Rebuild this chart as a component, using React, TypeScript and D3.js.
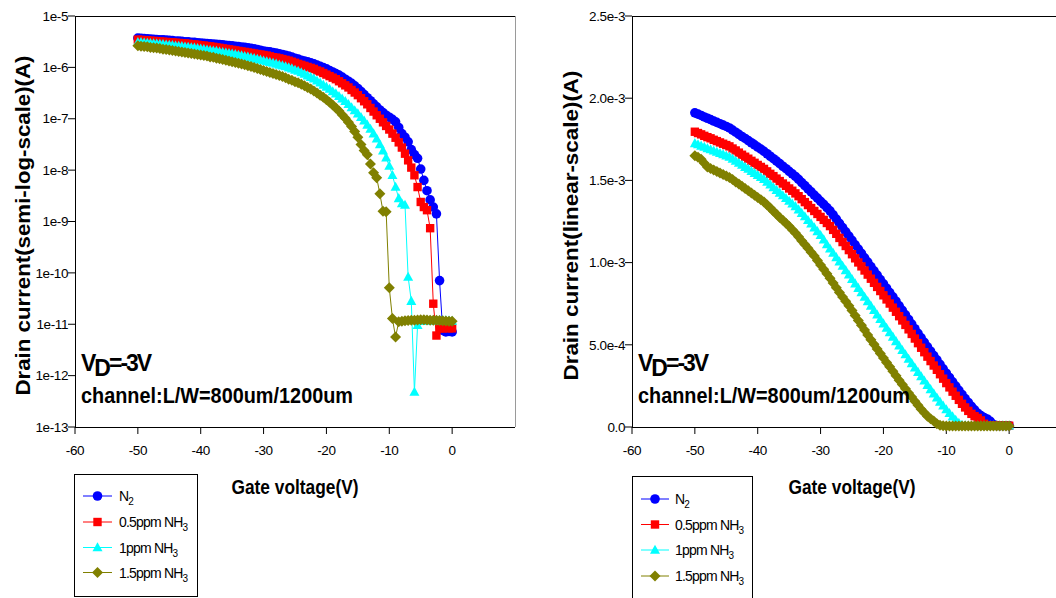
import React from "react";
import * as d3 from "d3";

// Gate sweep: -50 V to 0 V in 0.5 V steps (101 points)
const gateVoltage: number[] = d3.range(0, 101).map((i) => -50 + 0.5 * i);

// Drain current, semi-log panel (A)
const logN2 = [
  3.72e-6, 3.67e-6, 3.63e-6, 3.59e-6, 3.55e-6, 3.51e-6, 3.47e-6, 3.46e-6, 3.43e-6, 3.39e-6,
  3.35e-6, 3.31e-6, 3.27e-6, 3.24e-6, 3.2e-6, 3.16e-6, 3.13e-6, 3.09e-6, 3.06e-6, 3.02e-6,
  2.99e-6, 2.95e-6, 2.92e-6, 2.88e-6, 2.85e-6, 2.82e-6, 2.79e-6, 2.75e-6, 2.69e-6, 2.66e-6,
  2.63e-6, 2.57e-6, 2.54e-6, 2.48e-6, 2.45e-6, 2.4e-6, 2.34e-6, 2.29e-6, 2.23e-6, 2.16e-6,
  2.09e-6, 2.04e-6, 2.0e-6, 1.95e-6, 1.91e-6, 1.84e-6, 1.78e-6, 1.72e-6, 1.66e-6, 1.58e-6,
  1.51e-6, 1.45e-6, 1.38e-6, 1.33e-6, 1.29e-6, 1.23e-6, 1.17e-6, 1.11e-6, 1.05e-6, 9.89e-7,
  9.33e-7, 8.71e-7, 8.13e-7, 7.59e-7, 7.08e-7, 6.46e-7, 5.89e-7, 5.37e-7, 4.9e-7, 4.37e-7,
  3.89e-7, 3.39e-7, 2.95e-7, 2.57e-7, 2.24e-7, 1.95e-7, 1.7e-7, 1.48e-7, 1.32e-7, 1.17e-7,
  1.07e-7, 9.77e-8, 8.71e-8, 6.76e-8, 5.13e-8, 4.37e-8, 3.55e-8, 2.51e-8, 2.0e-8, 1.7e-8,
  1.05e-8, 6.31e-9, 3.98e-9, 2.63e-9, 1.91e-9, 1.41e-9, 7.08e-11, 7.59e-12, 7.08e-12, 7.24e-12,
  7.08e-12,
];
const logNH3_05 = [
  3.47e-6, 3.43e-6, 3.39e-6, 3.35e-6, 3.31e-6, 3.27e-6, 3.24e-6, 3.2e-6, 3.16e-6, 3.13e-6,
  3.09e-6, 3.06e-6, 3.02e-6, 2.99e-6, 2.95e-6, 2.92e-6, 2.88e-6, 2.82e-6, 2.79e-6, 2.75e-6,
  2.69e-6, 2.66e-6, 2.6e-6, 2.57e-6, 2.51e-6, 2.45e-6, 2.4e-6, 2.34e-6, 2.29e-6, 2.24e-6,
  2.19e-6, 2.14e-6, 2.09e-6, 2.04e-6, 2.0e-6, 1.95e-6, 1.91e-6, 1.86e-6, 1.82e-6, 1.78e-6,
  1.74e-6, 1.7e-6, 1.64e-6, 1.58e-6, 1.55e-6, 1.5e-6, 1.45e-6, 1.4e-6, 1.35e-6, 1.29e-6,
  1.23e-6, 1.17e-6, 1.12e-6, 1.07e-6, 1.02e-6, 9.77e-7, 9.33e-7, 8.71e-7, 8.32e-7, 7.76e-7,
  7.24e-7, 6.76e-7, 6.31e-7, 5.89e-7, 5.37e-7, 4.9e-7, 4.47e-7, 4.07e-7, 3.63e-7, 3.24e-7,
  2.88e-7, 2.51e-7, 2.19e-7, 1.91e-7, 1.62e-7, 1.38e-7, 1.17e-7, 1.0e-7, 8.51e-8, 7.24e-8,
  6.17e-8, 5.13e-8, 4.27e-8, 3.47e-8, 2.75e-8, 2.09e-8, 1.55e-8, 1.12e-8, 7.94e-9, 4.68e-9,
  2.4e-9, 1.91e-9, 1.66e-9, 7.41e-10, 2.51e-11, 6.03e-12, 8.32e-12, 8.28e-12, 8.51e-12, 8.32e-12,
  8.32e-12,
];
const logNH3_1 = [
  3.09e-6, 3.06e-6, 3.02e-6, 2.99e-6, 2.95e-6, 2.92e-6, 2.88e-6, 2.85e-6, 2.82e-6, 2.75e-6,
  2.72e-6, 2.69e-6, 2.63e-6, 2.6e-6, 2.57e-6, 2.51e-6, 2.48e-6, 2.43e-6, 2.4e-6, 2.34e-6,
  2.29e-6, 2.26e-6, 2.21e-6, 2.16e-6, 2.11e-6, 2.07e-6, 2.02e-6, 1.97e-6, 1.93e-6, 1.88e-6,
  1.84e-6, 1.8e-6, 1.74e-6, 1.7e-6, 1.64e-6, 1.6e-6, 1.55e-6, 1.5e-6, 1.45e-6, 1.4e-6,
  1.35e-6, 1.3e-6, 1.26e-6, 1.22e-6, 1.17e-6, 1.12e-6, 1.08e-6, 1.04e-6, 9.89e-7, 9.44e-7,
  8.91e-7, 8.51e-7, 7.94e-7, 7.41e-7, 6.92e-7, 6.46e-7, 6.03e-7, 5.5e-7, 5.01e-7, 4.57e-7,
  4.17e-7, 3.8e-7, 3.39e-7, 3.09e-7, 2.75e-7, 2.45e-7, 2.19e-7, 1.91e-7, 1.66e-7, 1.45e-7,
  1.26e-7, 1.07e-7, 9.12e-8, 7.59e-8, 6.31e-8, 5.13e-8, 4.07e-8, 3.16e-8, 2.4e-8, 1.74e-8,
  1.2e-8, 7.94e-9, 4.68e-9, 2.82e-9, 2.24e-9, 2.09e-9, 8.32e-11, 2.82e-11, 4.79e-13, 9.55e-12,
  1.15e-11, 1.17e-11, 1.18e-11, 1.17e-11, 1.19e-11, 1.18e-11, 1.2e-11, 1.19e-11, 1.18e-11, 1.17e-11,
  1.16e-11,
];
const logNH3_15 = [
  2.63e-6, 2.57e-6, 2.54e-6, 2.51e-6, 2.45e-6, 2.4e-6, 2.37e-6, 2.32e-6, 2.26e-6, 2.24e-6,
  2.19e-6, 2.14e-6, 2.09e-6, 2.04e-6, 2.0e-6, 1.95e-6, 1.91e-6, 1.86e-6, 1.82e-6, 1.78e-6,
  1.74e-6, 1.7e-6, 1.66e-6, 1.6e-6, 1.57e-6, 1.51e-6, 1.48e-6, 1.43e-6, 1.38e-6, 1.33e-6,
  1.29e-6, 1.24e-6, 1.2e-6, 1.16e-6, 1.12e-6, 1.07e-6, 1.04e-6, 1.0e-6, 9.55e-7, 9.12e-7,
  8.71e-7, 8.32e-7, 7.94e-7, 7.59e-7, 7.24e-7, 6.92e-7, 6.61e-7, 6.31e-7, 5.89e-7, 5.62e-7,
  5.25e-7, 5.01e-7, 4.68e-7, 4.37e-7, 4.07e-7, 3.8e-7, 3.47e-7, 3.16e-7, 2.88e-7, 2.63e-7,
  2.34e-7, 2.09e-7, 1.86e-7, 1.62e-7, 1.41e-7, 1.2e-7, 1.02e-7, 8.51e-8, 7.08e-8, 5.62e-8,
  4.37e-8, 3.16e-8, 2.4e-8, 2.0e-8, 1.32e-8, 8.91e-9, 7.08e-9, 3.47e-9, 1.58e-9, 1.55e-9,
  5.13e-11, 1.29e-11, 5.62e-12, 1.12e-11, 1.15e-11, 1.17e-11, 1.18e-11, 1.19e-11, 1.2e-11, 1.21e-11,
  1.22e-11, 1.22e-11, 1.21e-11, 1.2e-11, 1.19e-11, 1.2e-11, 1.18e-11, 1.17e-11, 1.16e-11, 1.15e-11,
  1.14e-11,
];

// Drain current, linear panel (A)
const linN2 = [
  1.911e-3, 1.903e-3, 1.895e-3, 1.886e-3, 1.878e-3, 1.87e-3, 1.861e-3, 1.853e-3, 1.845e-3, 1.836e-3,
  1.828e-3, 1.819e-3, 1.806e-3, 1.793e-3, 1.78e-3, 1.767e-3, 1.755e-3, 1.742e-3, 1.729e-3, 1.716e-3,
  1.703e-3, 1.69e-3, 1.677e-3, 1.662e-3, 1.647e-3, 1.632e-3, 1.617e-3, 1.602e-3, 1.586e-3, 1.571e-3,
  1.555e-3, 1.54e-3, 1.524e-3, 1.506e-3, 1.487e-3, 1.468e-3, 1.449e-3, 1.43e-3, 1.411e-3, 1.392e-3,
  1.373e-3, 1.354e-3, 1.335e-3, 1.315e-3, 1.29e-3, 1.265e-3, 1.239e-3, 1.213e-3, 1.187e-3, 1.161e-3,
  1.135e-3, 1.108e-3, 1.082e-3, 1.056e-3, 1.029e-3, 1.003e-3, 0.976e-3, 0.95e-3, 0.924e-3, 0.897e-3,
  0.871e-3, 0.844e-3, 0.818e-3, 0.792e-3, 0.765e-3, 0.737e-3, 0.71e-3, 0.682e-3, 0.654e-3, 0.626e-3,
  0.598e-3, 0.57e-3, 0.542e-3, 0.515e-3, 0.488e-3, 0.461e-3, 0.434e-3, 0.408e-3, 0.381e-3, 0.354e-3,
  0.327e-3, 0.301e-3, 0.275e-3, 0.249e-3, 0.223e-3, 0.198e-3, 0.173e-3, 0.149e-3, 0.126e-3, 0.104e-3,
  0.084e-3, 0.069e-3, 0.058e-3, 0.049e-3, 0.034e-3, 0.015e-3, 0.009e-3, 0.008e-3, 0.008e-3, 0.008e-3,
  0.008e-3,
];
const linNH3_05 = [
  1.796e-3, 1.788e-3, 1.78e-3, 1.771e-3, 1.763e-3, 1.756e-3, 1.747e-3, 1.739e-3, 1.731e-3, 1.723e-3,
  1.715e-3, 1.707e-3, 1.694e-3, 1.682e-3, 1.669e-3, 1.656e-3, 1.644e-3, 1.632e-3, 1.619e-3, 1.607e-3,
  1.594e-3, 1.582e-3, 1.57e-3, 1.555e-3, 1.54e-3, 1.526e-3, 1.511e-3, 1.496e-3, 1.481e-3, 1.467e-3,
  1.451e-3, 1.437e-3, 1.421e-3, 1.404e-3, 1.386e-3, 1.368e-3, 1.35e-3, 1.332e-3, 1.314e-3, 1.296e-3,
  1.278e-3, 1.26e-3, 1.241e-3, 1.222e-3, 1.199e-3, 1.175e-3, 1.15e-3, 1.125e-3, 1.101e-3, 1.076e-3,
  1.051e-3, 1.026e-3, 1.001e-3, 0.977e-3, 0.952e-3, 0.927e-3, 0.902e-3, 0.877e-3, 0.852e-3, 0.827e-3,
  0.801e-3, 0.776e-3, 0.751e-3, 0.726e-3, 0.701e-3, 0.674e-3, 0.648e-3, 0.621e-3, 0.594e-3, 0.566e-3,
  0.538e-3, 0.51e-3, 0.482e-3, 0.455e-3, 0.428e-3, 0.401e-3, 0.374e-3, 0.348e-3, 0.321e-3, 0.294e-3,
  0.267e-3, 0.241e-3, 0.215e-3, 0.19e-3, 0.165e-3, 0.141e-3, 0.119e-3, 0.098e-3, 0.08e-3, 0.066e-3,
  0.055e-3, 0.04e-3, 0.02e-3, 0.011e-3, 0.009e-3, 0.008e-3, 0.008e-3, 0.008e-3, 0.008e-3, 0.008e-3,
  0.008e-3,
];
const linNH3_1 = [
  1.725e-3, 1.718e-3, 1.71e-3, 1.703e-3, 1.695e-3, 1.688e-3, 1.68e-3, 1.673e-3, 1.665e-3, 1.658e-3,
  1.65e-3, 1.643e-3, 1.631e-3, 1.618e-3, 1.606e-3, 1.594e-3, 1.581e-3, 1.569e-3, 1.556e-3, 1.544e-3,
  1.532e-3, 1.519e-3, 1.507e-3, 1.49e-3, 1.474e-3, 1.457e-3, 1.441e-3, 1.424e-3, 1.408e-3, 1.391e-3,
  1.375e-3, 1.358e-3, 1.342e-3, 1.322e-3, 1.301e-3, 1.28e-3, 1.258e-3, 1.236e-3, 1.213e-3, 1.19e-3,
  1.166e-3, 1.14e-3, 1.11e-3, 1.084e-3, 1.058e-3, 1.032e-3, 1.006e-3, 0.979e-3, 0.953e-3, 0.926e-3,
  0.899e-3, 0.872e-3, 0.845e-3, 0.818e-3, 0.791e-3, 0.764e-3, 0.737e-3, 0.71e-3, 0.683e-3, 0.656e-3,
  0.629e-3, 0.602e-3, 0.575e-3, 0.548e-3, 0.521e-3, 0.494e-3, 0.467e-3, 0.441e-3, 0.414e-3, 0.387e-3,
  0.36e-3, 0.334e-3, 0.307e-3, 0.281e-3, 0.255e-3, 0.229e-3, 0.203e-3, 0.178e-3, 0.153e-3, 0.129e-3,
  0.106e-3, 0.084e-3, 0.063e-3, 0.043e-3, 0.024e-3, 0.012e-3, 0.009e-3, 0.008e-3, 0.008e-3, 0.008e-3,
  0.008e-3, 0.008e-3, 0.008e-3, 0.008e-3, 0.008e-3, 0.008e-3, 0.008e-3, 0.008e-3, 0.008e-3, 0.008e-3,
  0.008e-3,
];
const linNH3_15 = [
  1.65e-3, 1.641e-3, 1.628e-3, 1.604e-3, 1.582e-3, 1.572e-3, 1.563e-3, 1.554e-3, 1.545e-3, 1.536e-3,
  1.527e-3, 1.518e-3, 1.505e-3, 1.491e-3, 1.478e-3, 1.464e-3, 1.451e-3, 1.437e-3, 1.424e-3, 1.41e-3,
  1.396e-3, 1.383e-3, 1.368e-3, 1.35e-3, 1.332e-3, 1.313e-3, 1.294e-3, 1.275e-3, 1.258e-3, 1.24e-3,
  1.221e-3, 1.2e-3, 1.18e-3, 1.157e-3, 1.133e-3, 1.11e-3, 1.087e-3, 1.063e-3, 1.04e-3, 1.013e-3,
  0.986e-3, 0.959e-3, 0.932e-3, 0.905e-3, 0.876e-3, 0.847e-3, 0.818e-3, 0.79e-3, 0.765e-3, 0.737e-3,
  0.708e-3, 0.678e-3, 0.648e-3, 0.619e-3, 0.59e-3, 0.56e-3, 0.531e-3, 0.503e-3, 0.475e-3, 0.447e-3,
  0.42e-3, 0.393e-3, 0.366e-3, 0.339e-3, 0.312e-3, 0.285e-3, 0.259e-3, 0.233e-3, 0.207e-3, 0.182e-3,
  0.157e-3, 0.132e-3, 0.108e-3, 0.086e-3, 0.066e-3, 0.05e-3, 0.036e-3, 0.02e-3, 0.01e-3, 0.008e-3,
  0.006e-3, 0.006e-3, 0.006e-3, 0.006e-3, 0.006e-3, 0.006e-3, 0.006e-3, 0.006e-3, 0.006e-3, 0.006e-3,
  0.006e-3, 0.006e-3, 0.006e-3, 0.006e-3, 0.006e-3, 0.006e-3, 0.006e-3, 0.006e-3, 0.006e-3, 0.006e-3,
  0.006e-3,
];

// Series styling and legend labels (main text + subscript)
const seriesLabels: [string, string][] = [
  ["N", "2"],
  ["0.5ppm NH", "3"],
  ["1ppm NH", "3"],
  ["1.5ppm NH", "3"],
];
const seriesColors = ["#0000ff", "#ff0000", "#00ffff", "#808000"];
const seriesShapes = ["circle", "square", "triangle", "diamond"];

const xTicks = [-60, -50, -40, -30, -20, -10, 0];
const logTicks = [1e-13, 1e-12, 1e-11, 1e-10, 1e-9, 1e-8, 1e-7, 1e-6, 1e-5];
const linTicks = [0, 5e-4, 1e-3, 1.5e-3, 2e-3, 2.5e-3];

const FONT = "'Liberation Sans', Arial, Helvetica, sans-serif";
const TOP = 16;
const BOTTOM = 427;

function markerPath(shape: string): string {
  switch (shape) {
    case "circle":
      return "M4.8,0A4.8,4.8 0 1,1 -4.8,0A4.8,4.8 0 1,1 4.8,0Z";
    case "square":
      return "M-4.2,-4.2H4.2V4.2H-4.2Z";
    case "triangle":
      return "M0,-5.3L5,3.8H-5Z";
    default:
      return "M0,-5.5L5.5,0L0,5.5L-5.5,0Z";
  }
}

type LegendBox = {
  x: number;
  y: number;
  w: number;
  h: number;
  rows: number[];
  lineX0: number;
  lineX1: number;
  textX: number;
};

type PanelProps = {
  x0: number;
  x1: number;
  yScale: (v: number) => number;
  yTicks: number[];
  yFormat: (v: number) => string;
  yTitle: string;
  yTitleX: number;
  yTitleLen: number;
  series: number[][];
  rightBorder: boolean;
  legend: LegendBox;
};

function Panel(p: PanelProps) {
  const xScale = d3.scaleLinear().domain([-60, 10]).range([p.x0, p.x1]);
  const line = d3
    .line<number>()
    .x((_, i) => xScale(gateVoltage[i]))
    .y((d) => p.yScale(d));
  return (
    <g fontFamily={FONT}>
      {/* frame */}
      <line x1={p.x0} x2={p.x1} y1={TOP + 0.5} y2={TOP + 0.5} stroke="#000" strokeWidth={1} />
      {p.rightBorder && (
        <line x1={p.x1 + 0.5} x2={p.x1 + 0.5} y1={TOP} y2={BOTTOM} stroke="#9a9a9a" strokeWidth={1} />
      )}
      <line x1={p.x0 + 0.5} x2={p.x0 + 0.5} y1={TOP} y2={BOTTOM} stroke="#000" strokeWidth={1} />
      <line x1={p.x0} x2={p.x1} y1={BOTTOM + 0.5} y2={BOTTOM + 0.5} stroke="#000" strokeWidth={1} />

      {/* y ticks */}
      {p.yTicks.map((t) => {
        const y = p.yScale(t);
        return (
          <g key={"y" + t}>
            <line x1={p.x0 - 7} x2={p.x0} y1={y} y2={y} stroke="#000" strokeWidth={1} />
            <text x={p.x0 - 7} y={y} dy="0.35em" fontSize={13.5} textAnchor="end" letterSpacing={-0.4} fill="#000">
              {p.yFormat(t)}
            </text>
          </g>
        );
      })}

      {/* x ticks */}
      {xTicks.map((t) => {
        const x = xScale(t);
        return (
          <g key={"x" + t}>
            <line x1={x} x2={x} y1={BOTTOM} y2={BOTTOM + 7} stroke="#000" strokeWidth={1} />
            <text x={x} y={455} fontSize={13.5} textAnchor="middle" letterSpacing={-0.4} fill="#000">
              {t}
            </text>
          </g>
        );
      })}

      {/* axis titles */}
      <text
        x={p.x0 + 220}
        y={494}
        fontSize={20}
        fontWeight={700}
        textAnchor="middle"
        textLength={127}
        lengthAdjust="spacingAndGlyphs"
      >
        Gate voltage(V)
      </text>
      <text
        transform={`translate(${p.yTitleX},${(TOP + BOTTOM) / 2 + 4}) rotate(-90)`}
        fontSize={20}
        fontWeight={700}
        textAnchor="middle"
        textLength={p.yTitleLen}
        lengthAdjust="spacingAndGlyphs"
      >
        {p.yTitle}
      </text>

      {/* data */}
      {p.series.map((vals, si) => (
        <g key={"s" + si}>
          <path d={line(vals) || ""} fill="none" stroke={seriesColors[si]} strokeWidth={1} />
          {vals.map((v, i) => (
            <path
              key={i}
              d={markerPath(seriesShapes[si])}
              transform={`translate(${xScale(gateVoltage[i])},${p.yScale(v)})`}
              fill={seriesColors[si]}
            />
          ))}
        </g>
      ))}

      {/* annotation */}
      <text x={p.x0 + 6} y={371} fontSize={23} fontWeight={700} letterSpacing={-2}>
        V<tspan dy={5}>D</tspan>
        <tspan dy={-5}>=-3V</tspan>
      </text>
      <text
        x={p.x0 + 6}
        y={403}
        fontSize={22}
        fontWeight={700}
        textLength={272}
        lengthAdjust="spacingAndGlyphs"
      >
        channel:L/W=800um/1200um
      </text>

      {/* legend */}
      <rect
        x={p.legend.x + 0.5}
        y={p.legend.y + 0.5}
        width={p.legend.w}
        height={p.legend.h}
        fill="#fff"
        stroke="#000"
        strokeWidth={1}
      />
      {seriesLabels.map((lab, si) => {
        const y = p.legend.rows[si];
        const mx = (p.legend.lineX0 + p.legend.lineX1) / 2;
        return (
          <g key={"l" + si}>
            <line x1={p.legend.lineX0} x2={p.legend.lineX1} y1={y} y2={y} stroke={seriesColors[si]} strokeWidth={1} />
            <path d={markerPath(seriesShapes[si])} transform={`translate(${mx},${y})`} fill={seriesColors[si]} />
            <text x={p.legend.textX} y={y + 5} fontSize={14} letterSpacing={-0.8} fill="#000">
              {lab[0]}
              <tspan dy={4} fontSize={10}>
                {lab[1]}
              </tspan>
            </text>
          </g>
        );
      })}
    </g>
  );
}

export default function App() {
  const yLog = d3.scaleLog().domain([1e-13, 1e-5]).range([BOTTOM, TOP]);
  const yLin = d3.scaleLinear().domain([0, 2.5e-3]).range([BOTTOM, TOP]);
  const logFmt = (v: number) => `1e${Math.round(Math.log10(v))}`;
  const linFmt = (v: number) => (v === 0 ? "0.0" : d3.format(".1e")(v));

  return (
    <svg
      width={1056}
      height={598}
      viewBox="0 0 1056 598"
      style={{ position: "absolute", left: 0, top: 0, background: "#fff", display: "block" }}
    >
      <rect x={0} y={0} width={1056} height={598} fill="#fff" />
      <Panel
        x0={75}
        x1={515}
        yScale={yLog}
        yTicks={logTicks}
        yFormat={logFmt}
        yTitle="Drain current(semi-log-scale)(A)"
        yTitleX={30}
        yTitleLen={340}
        series={[logN2, logNH3_05, logNH3_1, logNH3_15]}
        rightBorder={true}
        legend={{ x: 74, y: 474, w: 123, h: 122, rows: [496, 522, 547.5, 572.5], lineX0: 83, lineX1: 112, textX: 119 }}
      />
      <Panel
        x0={632}
        x1={1072}
        yScale={yLin}
        yTicks={linTicks}
        yFormat={linFmt}
        yTitle="Drain current(linear-scale)(A)"
        yTitleX={578}
        yTitleLen={310}
        series={[linN2, linNH3_05, linNH3_1, linNH3_15]}
        rightBorder={false}
        legend={{ x: 632, y: 476, w: 120, h: 130, rows: [499, 524.5, 550, 576], lineX0: 641, lineX1: 669, textX: 675 }}
      />
    </svg>
  );
}
